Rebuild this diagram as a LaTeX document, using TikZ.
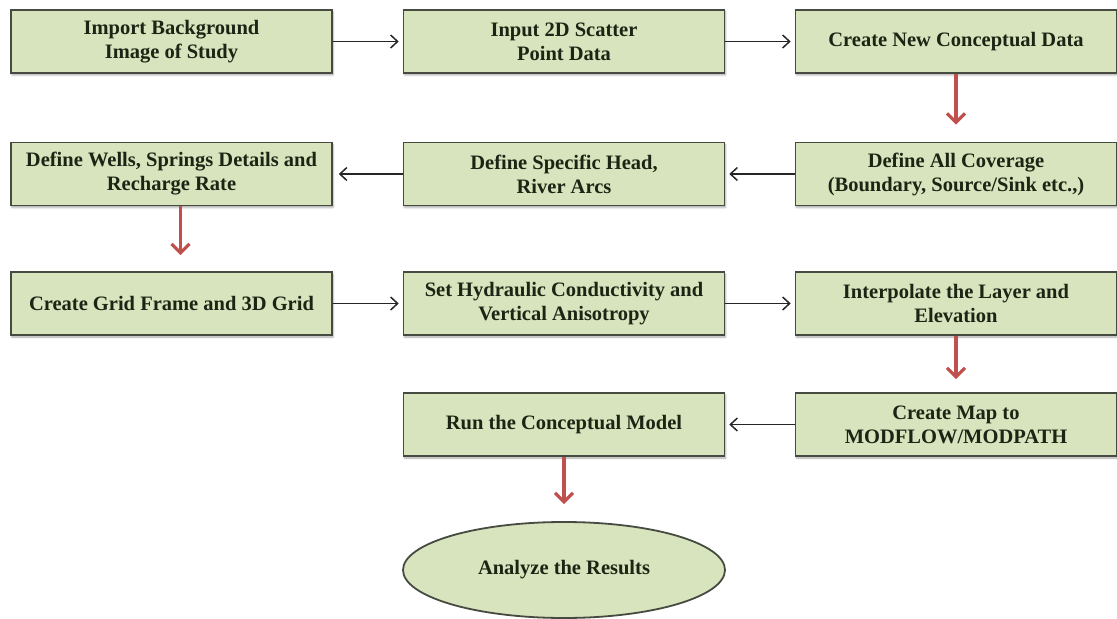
\documentclass[tikz,border=0pt]{standalone}
\usepackage{fontspec}
\setmainfont{Liberation Serif}
\usetikzlibrary{arrows.meta,shapes.geometric,shadows.blur}

\definecolor{boxfill}{RGB}{215,228,189}
\definecolor{boxline}{RGB}{70,74,64}
\definecolor{flowred}{RGB}{192,80,77}
\definecolor{ink}{RGB}{28,36,20}

\tikzset{
  stepbox/.style={draw=boxline, line width=1.6bp, fill=boxfill,
    minimum width=321bp, minimum height=63bp, inner sep=0pt,
    align=center, text=ink,
    font=\fontsize{20.5bp}{24bp}\selectfont\bfseries,
    blur shadow={shadow xshift=1bp, shadow yshift=-2bp, shadow blur steps=4, shadow opacity=35}},
  endoval/.style={ellipse, draw=boxline, line width=1.8bp, fill=boxfill,
    minimum width=322bp, minimum height=96bp, inner sep=0pt, text=ink,
    font=\fontsize{20.5bp}{24bp}\selectfont\bfseries},
  sidearrow/.style={draw=black!85, line width=1.5bp,
    -{Straight Barb[length=7bp,width=13bp]}, shorten >=4bp},
  downarrow/.style={draw=flowred, line width=3.2bp,
    -{Straight Barb[length=9bp,width=18bp,line width=3.2bp]}}
}

\begin{document}
\begin{tikzpicture}[x=1bp, y=-1bp]
\useasboundingbox (0,0) rectangle (1117,619);

% first row
\node[stepbox] (b1) at (171.5, 41.5) {Import Background\\Image of Study};
\node[stepbox] (b2) at (564, 41.5) {Input 2D Scatter\\Point Data};
\node[stepbox] (b3) at (956, 41.5) {Create New Conceptual Data};

% second row
\node[stepbox] (b6) at (956, 174) {Define All Coverage\\(Boundary, Source/Sink etc.,)};
\node[stepbox] (b5) at (564, 174) {Define Specific Head,\\River Arcs};
\node[stepbox] (b4) at (171.5, 174) {Define Wells, Springs Details and\\Recharge Rate};

% third row
\node[stepbox] (b7) at (171.5, 303.5) {Create Grid Frame and 3D Grid};
\node[stepbox] (b8) at (564, 303.5) {Set Hydraulic Conductivity and\\Vertical Anisotropy};
\node[stepbox] (b9) at (956, 303.5) {Interpolate the Layer and\\Elevation};

% fourth row
\node[stepbox] (b11) at (956, 424.5) {Create Map to\\MODFLOW/MODPATH};
\node[stepbox] (b10) at (564, 424.5) {Run the Conceptual Model};

% final step
\node[endoval] (res) at (564, 570) {Analyze the Results};

% connectors
\draw[sidearrow] (b1) -- (b2);
\draw[sidearrow] (b2) -- (b3);
\draw[downarrow, shorten >=17bp] (b3) -- (b6);
\draw[sidearrow] (b6) -- (b5);
\draw[sidearrow, shorten >=6bp] (b5) -- (b4);
\draw[downarrow, shorten >=16bp] ([xshift=9bp]b4.south) -- ([xshift=9bp]b7.north);
\draw[sidearrow] (b7) -- (b8);
\draw[sidearrow] (b8) -- (b9);
\draw[downarrow, shorten >=13bp] (b9) -- (b11);
\draw[sidearrow] (b11) -- (b10);
\draw[downarrow, shorten >=17bp] (b10) -- (res);
\end{tikzpicture}
\end{document}
